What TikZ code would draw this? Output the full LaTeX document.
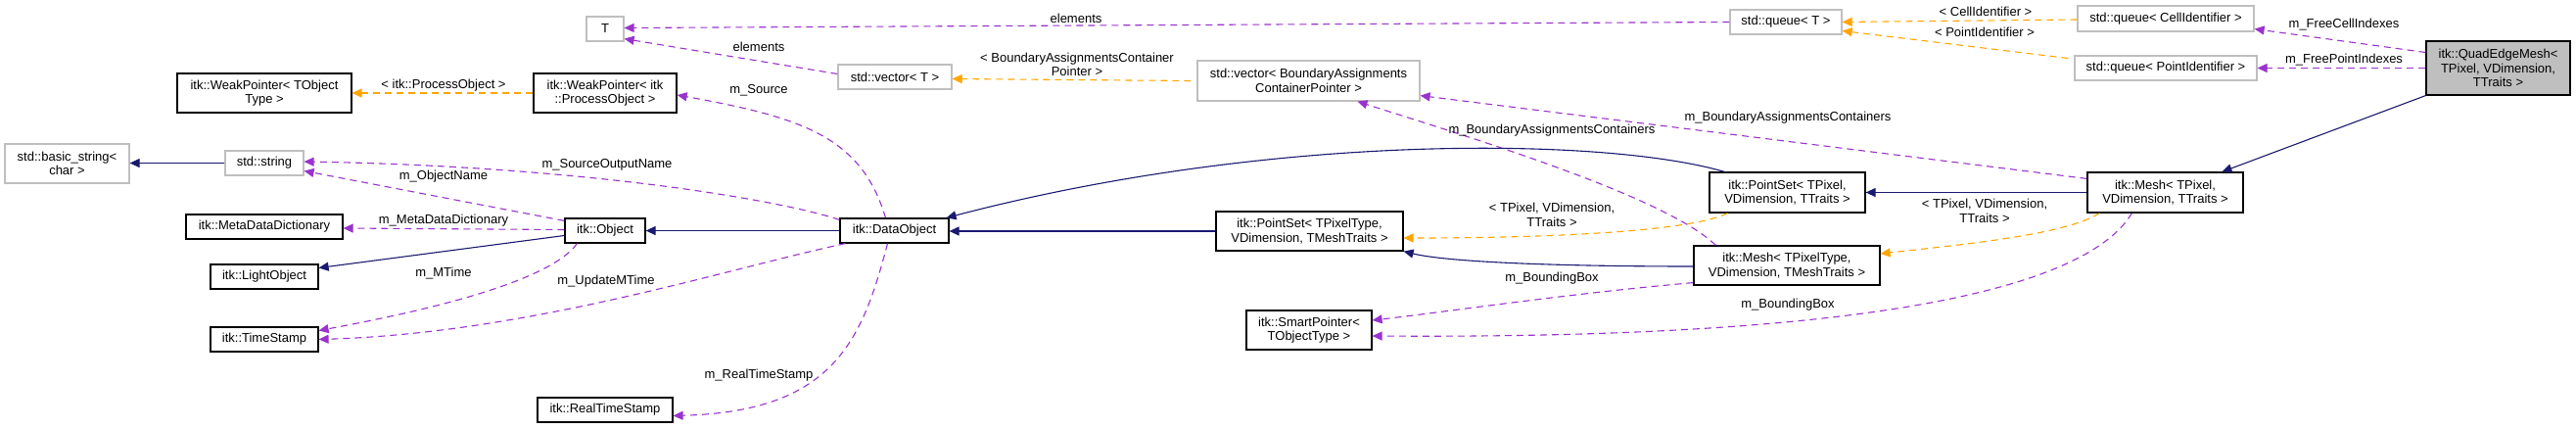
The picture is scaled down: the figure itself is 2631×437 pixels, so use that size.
\documentclass[tikz,border=0pt]{standalone}
\usepackage{fontspec}
\setmainfont{Liberation Sans}
\usetikzlibrary{arrows.meta,calc}
\definecolor{navy}{HTML}{191970}
\definecolor{usepurple}{HTML}{9A32CD}
\definecolor{tmplorange}{HTML}{FFA500}
\definecolor{graybd}{HTML}{BFBFBF}
\definecolor{qemfill}{HTML}{BFBFBF}
\begin{document}
\begin{tikzpicture}[x=1pt,y=-1pt,
  txt/.style={font=\fontsize{13}{14.5}\selectfont},
  cls/.style={txt,draw=black,line width=1.2pt,fill=white,inner sep=0pt,align=center},
  ext/.style={cls,draw=graybd},
  lbl/.style={txt,inner sep=0pt,align=center},
  tip/.style={-{Triangle[length=10pt,width=9pt]}},
  inh/.style={tip,draw=navy,line width=1.1pt},
  usage/.style={tip,draw=usepurple,line width=1.1pt,dash pattern=on 7pt off 5pt},
  tmpl/.style={tip,draw=tmplorange,line width=1.1pt,dash pattern=on 7pt off 5pt}]
\useasboundingbox (0,0) rectangle (2631,437);

% nodes
\node[ext,minimum width=38,minimum height=25] (T) at (618,29.5) {T};
\node[cls,minimum width=178,minimum height=40] (wpTO) at (270,95) {itk::WeakPointer< TObject\\Type >};
\node[cls,minimum width=146,minimum height=40] (wpPO) at (618,95) {itk::WeakPointer< itk\\::ProcessObject >};
\node[ext,minimum width=127,minimum height=40] (bstr) at (68.5,167) {std::basic\_string<\\char >};
\node[ext,minimum width=80,minimum height=25] (str) at (270,166.5) {std::string};
\node[cls,minimum width=160,minimum height=25] (mdd) at (270,231.5) {itk::MetaDataDictionary};
\node[cls,minimum width=82,minimum height=25] (obj) at (618,235.5) {itk::Object};
\node[cls,minimum width=110,minimum height=25] (lobj) at (270,282.5) {itk::LightObject};
\node[cls,minimum width=110,minimum height=25] (ts) at (270,346.5) {itk::TimeStamp};
\node[cls,minimum width=138,minimum height=25] (rts) at (618,418.5) {itk::RealTimeStamp};
\node[cls,minimum width=111,minimum height=25] (dobj) at (913.5,235.5) {itk::DataObject};
\node[ext,minimum width=116,minimum height=25] (vecT) at (914,78.5) {std::vector< T >};
\node[ext,minimum width=227,minimum height=41] (vecB) at (1336.5,82.5) {std::vector< BoundaryAssignments\\ContainerPointer >};
\node[cls,minimum width=191,minimum height=40] (psT) at (1337.5,236) {itk::PointSet< TPixelType,\\VDimension, TMeshTraits >};
\node[cls,minimum width=128,minimum height=40] (sp) at (1337,337) {itk::SmartPointer<\\TObjectType >};
\node[cls,minimum width=190,minimum height=40] (meshT) at (1825,271) {itk::Mesh< TPixelType,\\VDimension, TMeshTraits >};
\node[cls,minimum width=159,minimum height=41] (ps) at (1825.5,196.5) {itk::PointSet< TPixel,\\VDimension, TTraits >};
\node[cls,minimum width=159,minimum height=41] (mesh) at (2211.5,196.5) {itk::Mesh< TPixel,\\VDimension, TTraits >};
\node[ext,minimum width=114,minimum height=25] (qT) at (1824,22.5) {std::queue< T >};
\node[ext,minimum width=180,minimum height=26] (qC) at (2212,19) {std::queue< CellIdentifier >};
\node[ext,minimum width=186,minimum height=25] (qP) at (2212,69.5) {std::queue< PointIdentifier >};
\node[cls,fill=qemfill,minimum width=147,minimum height=55] (qem) at (2551.5,69.5) {itk::QuadEdgeMesh<\\TPixel, VDimension,\\TTraits >};

% connectors
\draw[inh] (qem.south west) -- ($(mesh.north)+(58,0)$);
\draw[usage] ($(qem.west)+(0,-16)$) -- ($(qC.south east)+(0,-3)$);
\node[lbl] (l1) at (2394,25) {m\_FreeCellIndexes};
\draw[usage] (qem.west) -- (qP.east);
\node[lbl] (l2) at (2394,61) {m\_FreePointIndexes};
\draw[tmpl] ($(qC.west)+(0,1)$) -- (qT.east);
\node[lbl] (l3) at (2028,12) {< CellIdentifier >};
\draw[tmpl] ($(qP.west)+(-6,-10)$) -- ($(qT.east)+(0,9)$);
\node[lbl] (l4) at (2027,33) {< PointIdentifier >};
\draw[usage] (qT.west) -- ($(T.east)+(0,-1)$);
\node[lbl] (l5) at (1099,19) {elements};
\draw[usage] ($(vecT.west)+(0,-3)$) -- ($(T.south east)+(0,-3)$);
\node[lbl] (l6) at (775,48) {elements};
\draw[tmpl] ($(vecB.west)+(-6,0)$) -- ($(vecT.east)+(0,2)$);
\node[lbl] (l7) at (1100,66) {< BoundaryAssignmentsContainer\\Pointer >};
\draw[usage] ($(mesh.north west)+(0,7)$) -- ($(vecB.south east)+(0,-6)$);
\node[lbl] (l8) at (1826,120) {m\_BoundaryAssignmentsContainers};
\draw[usage] ($(meshT.north west)+(23,0)$) .. controls (1700,200) and (1500,140) .. ($(vecB.south)+(50,0)$);
\node[lbl] (l9) at (1585,133) {m\_BoundaryAssignmentsContainers};
\draw[inh] (mesh.west) -- (ps.east);
\draw[inh] ($(ps.north west)+(16,0)$) .. controls (1640,140) and (1300,135) .. ($(dobj.north east)+(-3,0)$);
\draw[inh] (psT.west) -- (psT.west -| dobj.east);
\draw[inh] ($(meshT.west)+(0,1)$) .. controls (1600,272) and (1480,268) .. (psT.south east);
\draw[tmpl] ($(ps.south west)+(19,0)$) .. controls (1730,235) and (1600,243) .. ($(psT.east)+(0,7)$);
\node[lbl] (l10) at (1585,219.5) {< TPixel, VDimension,\\TTraits >};
\draw[tmpl] ($(mesh.south west)+(13,0)$) .. controls (2110,240) and (2000,250) .. ($(meshT.east)+(0,-12)$);
\node[lbl] (l11) at (2027,215.5) {< TPixel, VDimension,\\TTraits >};
\draw[usage] ($(mesh.south west)+(46,0)$) .. controls (2110,330) and (1700,345) .. ($(sp.east)+(0,6)$);
\node[lbl] (l12) at (1826,311) {m\_BoundingBox};
\draw[usage] ($(meshT.south west)+(0,-3)$) .. controls (1600,300) and (1480,318) .. ($(sp.east)+(0,-10)$);
\node[lbl] (l13) at (1585,284) {m\_BoundingBox};
\draw[inh] (dobj.west) -- (obj.east);
\draw[inh] ($(obj.west)+(0,5)$) -- ($(lobj.east)+(0,-9)$);
\draw[usage] ($(obj.west)+(0,-1)$) -- ($(mdd.east)+(0,1.5)$);
\node[lbl] (l14) at (453,225) {m\_MetaDataDictionary};
\draw[usage] ($(obj.north west)+(0,3)$) -- ($(str.east)+(0,8)$);
\node[lbl] (l15) at (453,180) {m\_ObjectName};
\draw[usage] ($(dobj.north west)+(0,2)$) .. controls (800,205) and (600,170) .. ($(str.east)+(0,-1.5)$);
\node[lbl] (l16) at (620,168) {m\_SourceOutputName};
\draw[usage] ($(dobj.north)+(-9,0)$) .. controls (880,140) and (820,120) .. ($(wpPO.east)+(0,2)$);
\node[lbl] (l17) at (775,92) {m\_Source};
\draw[tmpl] (wpPO.west) -- (wpTO.east);
\node[lbl] (l18) at (453,87) {< itk::ProcessObject >};
\draw[inh] (str.west) -- (str.west -| bstr.east);
\draw[usage] ($(obj.south west)+(13,0)$) .. controls (560,290) and (420,320) .. ($(ts.east)+(0,-9)$);
\node[lbl] (l19) at (453,279) {m\_MTime};
\draw[usage] ($(dobj.south west)+(6,0)$) .. controls (740,275) and (540,340) .. (ts.east);
\node[lbl] (l20) at (619,287) {m\_UpdateMTime};
\draw[usage] ($(dobj.south)+(-7,0)$) .. controls (880,350) and (850,420) .. ($(rts.east)+(0,6)$);
\node[lbl] (l21) at (775,383) {m\_RealTimeStamp};
\end{tikzpicture}
\end{document}
